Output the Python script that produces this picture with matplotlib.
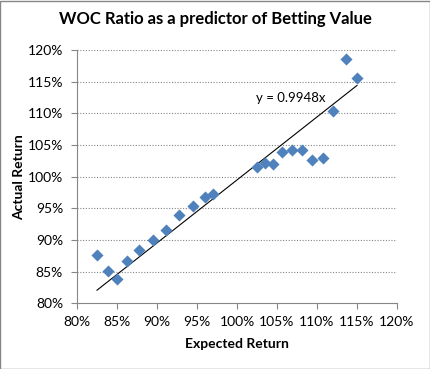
import numpy as np
import matplotlib.pyplot as plt
from matplotlib.ticker import FuncFormatter
from matplotlib.patches import Rectangle

# expected vs actual return (%)
expected = [82.5, 83.9, 85.0, 86.25, 87.8, 89.5, 91.1, 92.75, 94.5, 95.95, 97.0,
            102.5, 103.5, 104.5, 105.6, 106.9, 108.1, 109.4, 110.75, 112.0, 113.6, 115.0]
actual = [87.7, 85.1, 83.8, 86.7, 88.4, 90.0, 91.6, 93.95, 95.3, 96.75, 97.2,
          101.5, 102.1, 101.95, 103.85, 104.2, 104.2, 102.6, 102.9, 110.3, 118.5, 115.5]
slope = 0.9948
x_ticks = [80, 85, 90, 95, 100, 105, 110, 115, 120]
y_ticks = [80, 85, 90, 95, 100, 105, 110, 115, 120]

plt.rcParams['font.family'] = ['Lato', 'DejaVu Sans']

fig = plt.figure(figsize=(4.31, 3.69), dpi=100)
ax = fig.add_axes([77 / 431, 1 - 303.3 / 369, 320 / 431, 253.3 / 369])

ax.scatter(expected, actual, marker='D', s=38, color='#4F81BD', zorder=3, linewidths=0)

x = np.array([min(expected), max(expected)])
ax.plot(x, slope * x, color='black', lw=0.8, zorder=2)
ax.text(102.4, 112.4, 'y = %.4fx' % slope, fontsize=9.5, ha='left', va='center')

ax.set_xlim(80, 120)
ax.set_ylim(80, 120)
ax.set_xticks(x_ticks)
ax.set_yticks(y_ticks)
pct = FuncFormatter(lambda v, p: '%d%%' % v)
ax.xaxis.set_major_formatter(pct)
ax.yaxis.set_major_formatter(pct)
ax.tick_params(direction='out', length=4, color='#868686', labelsize=10)
ax.tick_params(axis='y', pad=6)
ax.tick_params(axis='x', pad=5)

for y in y_ticks[1:]:
    ax.axhline(y, color='#868686', lw=0.8, ls=(0, (1, 1.5)), zorder=1)

for s in ['top', 'right']:
    ax.spines[s].set_visible(False)
for s in ['left', 'bottom']:
    ax.spines[s].set_color('#868686')

ax.set_xlabel('Expected Return', fontsize=10, fontweight='bold', labelpad=7)
ax.set_ylabel('Actual Return', fontsize=10, fontweight='bold', labelpad=2)
fig.text(0.5, 1 - 19 / 369, 'WOC Ratio as a predictor of Betting Value',
         ha='center', va='center', fontsize=12, fontweight='bold')

fig.patches.append(Rectangle((0.001, 0.001), 0.997, 0.997, transform=fig.transFigure,
                             fill=False, edgecolor='#868686', lw=1))

fig.savefig('out.png', dpi=100)
